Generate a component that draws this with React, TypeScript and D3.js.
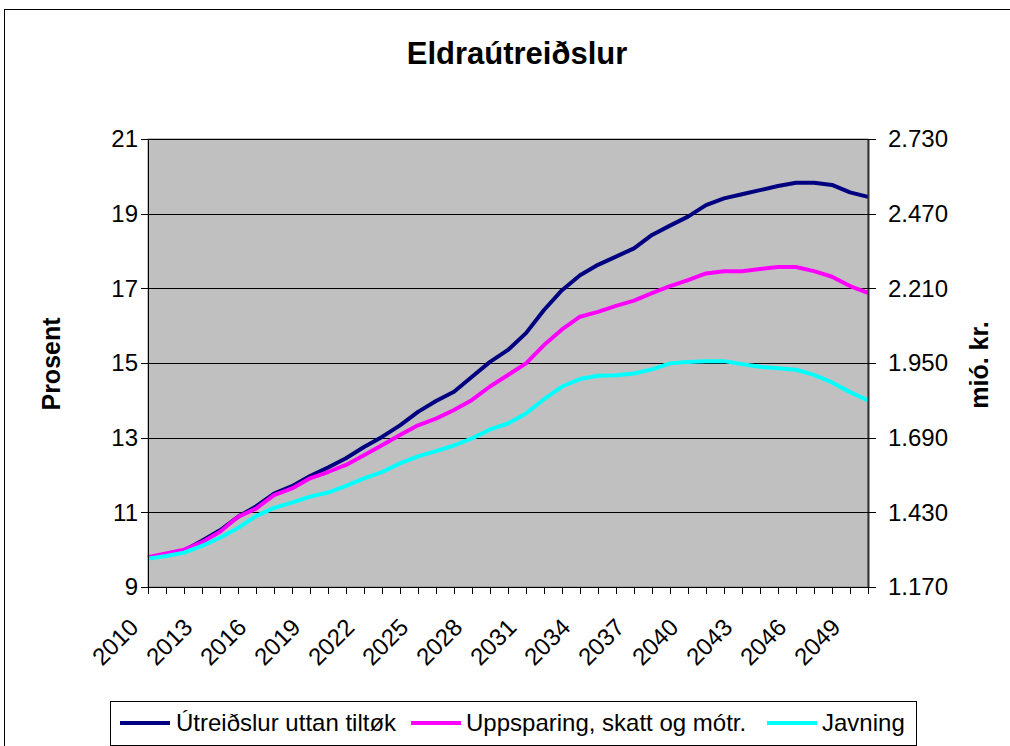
import React from "react";
import * as d3 from "d3";

const years: number[] = d3.range(2010, 2051);

const utreidslur: number[] = [
  9.78, 9.85, 9.98, 10.24, 10.52, 10.88, 11.16, 11.5, 11.7, 11.97,
  12.2, 12.45, 12.75, 13.02, 13.33, 13.69, 13.98, 14.23, 14.63, 15.03,
  15.35, 15.8, 16.42, 16.95, 17.35, 17.63, 17.85, 18.07, 18.43, 18.68,
  18.92, 19.23, 19.41, 19.52, 19.63, 19.74, 19.83, 19.83, 19.77, 19.57, 19.45,
];
const uppsparing: number[] = [
  9.8, 9.9, 10.0, 10.2, 10.48, 10.88, 11.1, 11.46, 11.64, 11.91,
  12.08, 12.27, 12.53, 12.8, 13.07, 13.33, 13.51, 13.74, 14.01, 14.37,
  14.68, 14.99, 15.48, 15.9, 16.24, 16.37, 16.53, 16.67, 16.87, 17.06,
  17.22, 17.4, 17.46, 17.46, 17.52, 17.57, 17.57, 17.46, 17.31, 17.06, 16.88,
];
const javning: number[] = [
  9.76, 9.83, 9.92, 10.1, 10.32, 10.58, 10.9, 11.12, 11.26, 11.42,
  11.53, 11.71, 11.91, 12.08, 12.31, 12.5, 12.64, 12.79, 12.98, 13.22,
  13.38, 13.65, 14.03, 14.37, 14.57, 14.66, 14.67, 14.72, 14.83, 14.99,
  15.03, 15.05, 15.05, 14.97, 14.9, 14.86, 14.82, 14.68, 14.48, 14.22, 14.0,
];

const leftTicks: number[] = [9, 11, 13, 15, 17, 19, 21];
const rightTicks: number[] = [1170, 1430, 1690, 1950, 2210, 2470, 2730];
const xLabelYears: number[] = d3.range(2010, 2051, 3);

const seriesNames: string[] = ["Útreiðslur uttan tiltøk", "Uppsparing, skatt og mótr.", "Javning"];
const seriesColors: string[] = ["#000080", "#FF00FF", "#00FFFF"];

const FONT = "'Liberation Sans', Arial, sans-serif";

export default function App() {
  const W = 1010, H = 746;
  const left = 148, right = 868, top = 139, bottom = 587;

  const x = d3.scaleLinear().domain([2010, 2050]).range([left, right]);
  const y = d3.scaleLinear().domain([9, 21]).range([bottom, top]);
  const y2 = d3.scaleLinear().domain([1170, 2730]).range([bottom, top]);

  const line = d3.line<number>().x((_, i) => x(years[i])).y((d) => y(d));
  const series = [utreidslur, uppsparing, javning];
  const fmt = (v: number) => {
    const s = String(v);
    return s.length > 3 ? s.slice(0, s.length - 3) + "." + s.slice(s.length - 3) : s;
  };

  const legendItems = [
    { sx: 120, tx: 176 },
    { sx: 411, tx: 466 },
    { sx: 767, tx: 822 },
  ];

  return (
    <svg width={W} height={H} style={{ position: "absolute", left: 0, top: 0 }} fontFamily={FONT}>
      <rect x={0} y={0} width={W} height={H} fill="#fff" />
      <rect x={4.5} y={9.5} width={W + 10} height={H + 10} fill="none" stroke="#000" strokeWidth={1} />
      <text x={517} y={64} textAnchor="middle" fontSize={31} fontWeight="bold">Eldraútreiðslur</text>

      {/* plot area */}
      <rect x={left} y={top} width={right - left} height={bottom - top} fill="#C0C0C0" stroke="#808080" strokeWidth={1} />
      {leftTicks.map((t) => (
        <line key={"g" + t} x1={left} x2={right} y1={Math.round(y(t)) + 0.5} y2={Math.round(y(t)) + 0.5} stroke="#000" strokeWidth={1} />
      ))}

      {/* lines */}
      {series.map((s, i) => (
        <path key={"s" + i} d={line(s) || ""} fill="none" stroke={seriesColors[i]} strokeWidth={4} strokeLinejoin="round" />
      ))}

      {/* left axis */}
      <line x1={left + 0.5} x2={left + 0.5} y1={top} y2={bottom} stroke="#000" />
      {leftTicks.map((t) => (
        <g key={"l" + t}>
          <line x1={left - 7} x2={left} y1={Math.round(y(t)) + 0.5} y2={Math.round(y(t)) + 0.5} stroke="#000" />
          <text x={left - 10} y={y(t)} dy="0.35em" textAnchor="end" fontSize={24}>{t}</text>
        </g>
      ))}
      {/* right axis */}
      <line x1={right + 0.5} x2={right + 0.5} y1={top} y2={bottom} stroke="#333" strokeWidth={2} />
      {rightTicks.map((t) => (
        <g key={"r" + t}>
          <line x1={right} x2={right + 8} y1={Math.round(y2(t)) + 0.5} y2={Math.round(y2(t)) + 0.5} stroke="#000" />
          <text x={right + 20} y={y2(t)} dy="0.35em" textAnchor="start" fontSize={24}>{fmt(t)}</text>
        </g>
      ))}
      {/* x axis */}
      <line x1={left} x2={right} y1={bottom + 0.5} y2={bottom + 0.5} stroke="#000" />
      {years.map((yr) => (
        <line key={"xt" + yr} x1={Math.round(x(yr)) + 0.5} x2={Math.round(x(yr)) + 0.5} y1={bottom} y2={bottom + 7} stroke="#000" />
      ))}
      {xLabelYears.map((yr) => (
        <text key={"xl" + yr} transform={`translate(${x(yr) - 20},${617}) rotate(-45)`} textAnchor="end" dy="0.7em" fontSize={24}>{yr}</text>
      ))}

      <text transform={`translate(60,364) rotate(-90)`} textAnchor="middle" fontSize={25} fontWeight="bold">Prosent</text>
      <text transform={`translate(988,365) rotate(-90)`} textAnchor="middle" fontSize={25} fontWeight="bold">mió. kr.</text>

      {/* legend */}
      <rect x={110.5} y={701.5} width={806} height={44} fill="#fff" stroke="#000" />
      {legendItems.map((it, i) => (
        <g key={"lg" + i}>
          <line x1={it.sx} x2={it.sx + 50} y1={723} y2={723} stroke={seriesColors[i]} strokeWidth={4} />
          <text x={it.tx} y={723} dy="0.35em" fontSize={24}>{seriesNames[i]}</text>
        </g>
      ))}
    </svg>
  );
}
